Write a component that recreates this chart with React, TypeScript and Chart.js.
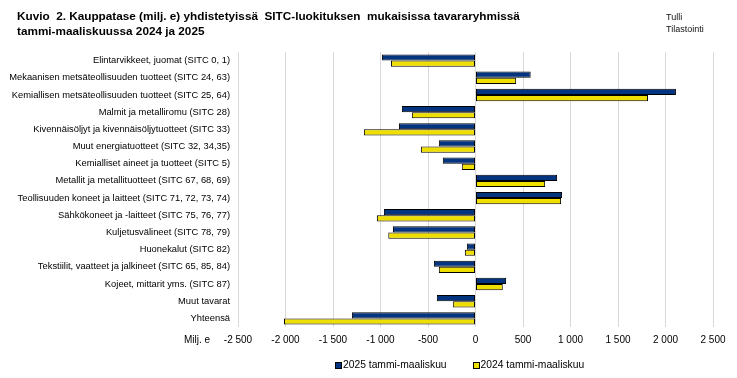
import React, { useEffect, useRef } from "react";
import { Chart, registerables } from "chart.js";

Chart.register(...registerables);

const categories = [
  "Elintarvikkeet, juomat (SITC 0, 1)",
  "Mekaanisen metsäteollisuuden tuotteet (SITC 24, 63)",
  "Kemiallisen metsäteollisuuden tuotteet (SITC 25, 64)",
  "Malmit ja metalliromu (SITC 28)",
  "Kivennäisöljyt ja kivennäisöljytuotteet (SITC 33)",
  "Muut energiatuotteet (SITC 32, 34,35)",
  "Kemialliset aineet ja tuotteet (SITC 5)",
  "Metallit ja metallituotteet (SITC 67, 68, 69)",
  "Teollisuuden koneet ja laitteet (SITC 71, 72, 73, 74)",
  "Sähkökoneet ja -laitteet (SITC 75, 76, 77)",
  "Kuljetusvälineet (SITC 78, 79)",
  "Huonekalut (SITC 82)",
  "Tekstiilit, vaatteet ja jalkineet (SITC 65, 85, 84)",
  "Kojeet, mittarit yms. (SITC 87)",
  "Muut tavarat",
  "Yhteensä",
];

const values2025 = [-985, 581, 2110, -775, -806, -386, -344, 859, 911, -964, -869, -91, -438, 322, -407, -1301];
const values2024 = [-890, 428, 1816, -670, -1175, -575, -144, 733, 901, -1038, -918, -112, -386, 287, -239, -2016];

const seriesLabels = ["2025 tammi-maaliskuu", "2024 tammi-maaliskuu"];
const seriesColors = ["#023480", "#efdf00"];

const xMin = -2500;
const xMax = 2500;
const xStep = 500;

const titleLines = [
  "Kuvio  2. Kauppatase (milj. e) yhdistetyissä  SITC-luokituksen  mukaisissa tavararyhmissä",
  "tammi-maaliskuussa 2024 ja 2025",
];
const sourceLines = ["Tulli", "Tilastointi"];
const unitLabel = "Milj. e";

function fmt(v: number): string {
  const sign = v < 0 ? "-" : "";
  const a = Math.abs(v);
  const s = String(a);
  const out = s.length > 3 ? s.slice(0, s.length - 3) + " " + s.slice(s.length - 3) : s;
  return sign + out;
}

const FONT = "'Liberation Sans', Arial, sans-serif";

export default function App() {
  const ref = useRef<HTMLCanvasElement | null>(null);

  useEffect(() => {
    if (!ref.current) return;
    const chart = new Chart(ref.current, {
      type: "bar",
      data: {
        labels: categories,
        datasets: [
          {
            label: seriesLabels[0],
            data: values2025,
            backgroundColor: seriesColors[0],
            borderColor: "#000",
            borderWidth: 1,
            borderSkipped: false,
            categoryPercentage: 0.72,
            barPercentage: 1,
          },
          {
            label: seriesLabels[1],
            data: values2024,
            backgroundColor: seriesColors[1],
            borderColor: "#000",
            borderWidth: 1,
            borderSkipped: false,
            categoryPercentage: 0.72,
            barPercentage: 1,
          },
        ],
      },
      options: {
        indexAxis: "y",
        responsive: false,
        maintainAspectRatio: false,
        animation: false,
        layout: { padding: { top: 52, right: 24, bottom: 29, left: 0 } },
        plugins: {
          legend: { display: false },
          tooltip: { enabled: false },
          title: { display: false },
        },
        scales: {
          x: {
            type: "linear",
            min: xMin,
            max: xMax,
            ticks: {
              stepSize: xStep,
              padding: 7,
              color: "#000",
              font: { family: FONT, size: 10 },
              callback: (v: any) => fmt(Number(v)),
            },
            grid: { color: "#d9d9d9", drawTicks: false, lineWidth: 1 },
            border: { display: false },
            afterFit: (s: any) => {
              s.height = 22;
            },
          },
          y: {
            type: "category",
            ticks: {
              padding: 8,
              color: "#000",
              font: { family: FONT, size: 9.35 },
              autoSkip: false,
            },
            grid: { display: false, drawTicks: false },
            border: { display: false },
            afterFit: (s: any) => {
              s.width = 238;
            },
          },
        },
      },
    });
    return () => chart.destroy();
  }, []);

  return (
    <div style={{ position: "absolute", left: 0, top: 0, width: 737, height: 378, background: "#fff", fontFamily: FONT }}>
      <canvas ref={ref} width={737} height={378} style={{ position: "absolute", left: 0, top: 0, width: 737, height: 378 }} />
      <div style={{ position: "absolute", left: 17, top: 8, fontSize: 11.75, fontWeight: "bold", lineHeight: "15px", whiteSpace: "pre", color: "#000" }}>
        {titleLines.map((t, i) => (
          <div key={i}>{t}</div>
        ))}
      </div>
      <div style={{ position: "absolute", left: 666, top: 12, fontSize: 9, lineHeight: "11.5px", color: "#111" }}>
        {sourceLines.map((t, i) => (
          <div key={i}>{t}</div>
        ))}
      </div>
      <div style={{ position: "absolute", left: 184, top: 333, fontSize: 10, lineHeight: "14px", color: "#000" }}>{unitLabel}</div>
      <div style={{ position: "absolute", left: 335, top: 358, fontSize: 10.3, lineHeight: "14px", color: "#000", display: "flex", whiteSpace: "pre" }}>
        {seriesLabels.map((t, i) => (
          <div key={i} style={{ display: "flex", alignItems: "center", marginRight: i === 0 ? 26 : 0 }}>
            <span style={{ display: "inline-block", width: 5, height: 5, background: seriesColors[i], border: "1px solid #000", marginRight: 1 }} />
            <span>{t}</span>
          </div>
        ))}
      </div>
    </div>
  );
}
